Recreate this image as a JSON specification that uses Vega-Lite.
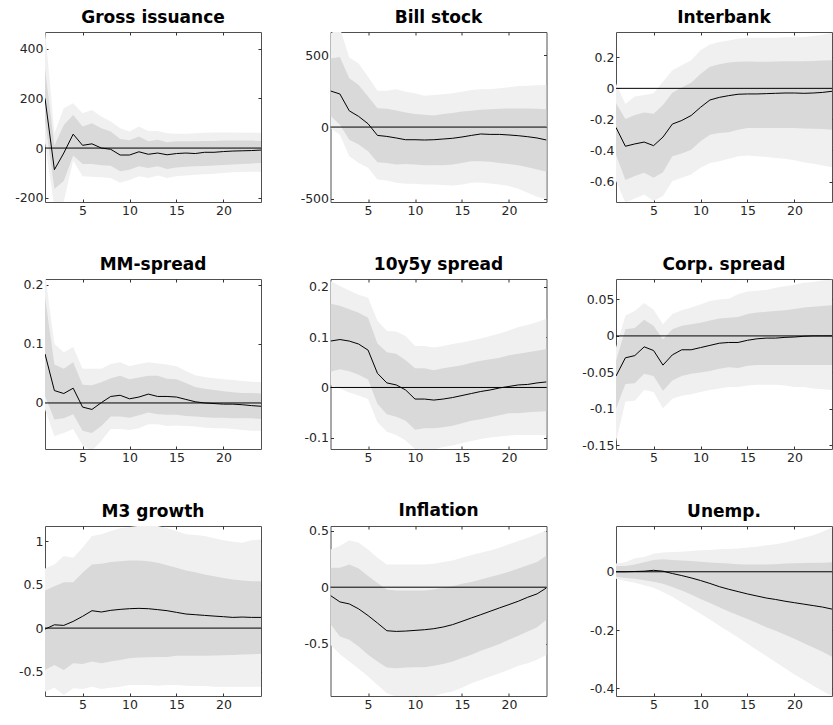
{
"$schema": "https://vega.github.io/schema/vega-lite/v6.json",
"background": "white",
"padding": {"left": 14, "top": 8, "right": 0, "bottom": 0},
"bounds": "flush",
"columns": 3,
"spacing": {"row": 77, "column": 69.5},
"datasets": {
"gross": [
{"h":1,"irf":200,"lo90":20,"hi90":480,"lo68":110,"hi68":320},
{"h":2,"irf":-87,"lo90":-240,"hi90":60,"lo68":-165,"hi68":10},
{"h":3,"irf":-20,"lo90":-215,"hi90":160,"lo68":-133,"hi68":93},
{"h":4,"irf":56,"lo90":-50,"hi90":180,"lo68":-30,"hi68":133},
{"h":5,"irf":11,"lo90":-113,"hi90":140,"lo68":-64,"hi68":87},
{"h":6,"irf":17,"lo90":-115,"hi90":153,"lo68":-64,"hi68":100},
{"h":7,"irf":0,"lo90":-117,"hi90":127,"lo68":-69,"hi68":80},
{"h":8,"irf":-5,"lo90":-120,"hi90":107,"lo68":-71,"hi68":67},
{"h":9,"irf":-28,"lo90":-140,"hi90":80,"lo68":-93,"hi68":36},
{"h":10,"irf":-28,"lo90":-128,"hi90":67,"lo68":-87,"hi68":31},
{"h":11,"irf":-15,"lo90":-113,"hi90":87,"lo68":-73,"hi68":47},
{"h":12,"irf":-25,"lo90":-120,"hi90":69,"lo68":-80,"hi68":27},
{"h":13,"irf":-20,"lo90":-110,"hi90":69,"lo68":-73,"hi68":33},
{"h":14,"irf":-27,"lo90":-120,"hi90":60,"lo68":-84,"hi68":23},
{"h":15,"irf":-22,"lo90":-113,"hi90":58,"lo68":-78,"hi68":27},
{"h":16,"irf":-20,"lo90":-110,"hi90":58,"lo68":-75,"hi68":27},
{"h":17,"irf":-22,"lo90":-107,"hi90":60,"lo68":-73,"hi68":27},
{"h":18,"irf":-17,"lo90":-105,"hi90":62,"lo68":-72,"hi68":28},
{"h":19,"irf":-17,"lo90":-103,"hi90":63,"lo68":-70,"hi68":28},
{"h":20,"irf":-14,"lo90":-100,"hi90":63,"lo68":-68,"hi68":30},
{"h":21,"irf":-12,"lo90":-97,"hi90":63,"lo68":-66,"hi68":30},
{"h":22,"irf":-11,"lo90":-96,"hi90":62,"lo68":-64,"hi68":30},
{"h":23,"irf":-10,"lo90":-95,"hi90":62,"lo68":-62,"hi68":30},
{"h":24,"irf":-8,"lo90":-95,"hi90":62,"lo68":-60,"hi68":28}
],
"bill": [
{"h":1,"irf":251,"lo90":-7,"hi90":650,"lo68":78,"hi68":477},
{"h":2,"irf":230,"lo90":-53,"hi90":690,"lo68":16,"hi68":488},
{"h":3,"irf":113,"lo90":-203,"hi90":484,"lo68":-88,"hi68":339},
{"h":4,"irf":74,"lo90":-249,"hi90":442,"lo68":-122,"hi68":293},
{"h":5,"irf":23,"lo90":-283,"hi90":350,"lo68":-168,"hi68":212},
{"h":6,"irf":-58,"lo90":-364,"hi90":253,"lo68":-244,"hi68":131},
{"h":7,"irf":-65,"lo90":-371,"hi90":253,"lo68":-249,"hi68":127},
{"h":8,"irf":-76,"lo90":-387,"hi90":263,"lo68":-260,"hi68":115},
{"h":9,"irf":-88,"lo90":-394,"hi90":246,"lo68":-256,"hi68":101},
{"h":10,"irf":-88,"lo90":-394,"hi90":235,"lo68":-260,"hi68":90},
{"h":11,"irf":-90,"lo90":-399,"hi90":217,"lo68":-265,"hi68":85},
{"h":12,"irf":-88,"lo90":-399,"hi90":223,"lo68":-265,"hi68":81},
{"h":13,"irf":-83,"lo90":-403,"hi90":228,"lo68":-265,"hi68":90},
{"h":14,"irf":-78,"lo90":-406,"hi90":235,"lo68":-260,"hi68":97},
{"h":15,"irf":-69,"lo90":-399,"hi90":246,"lo68":-249,"hi68":108},
{"h":16,"irf":-58,"lo90":-387,"hi90":258,"lo68":-237,"hi68":113},
{"h":17,"irf":-48,"lo90":-385,"hi90":263,"lo68":-237,"hi68":120},
{"h":18,"irf":-51,"lo90":-392,"hi90":263,"lo68":-242,"hi68":124},
{"h":19,"irf":-51,"lo90":-399,"hi90":270,"lo68":-249,"hi68":127},
{"h":20,"irf":-55,"lo90":-410,"hi90":276,"lo68":-256,"hi68":129},
{"h":21,"irf":-60,"lo90":-429,"hi90":286,"lo68":-265,"hi68":129},
{"h":22,"irf":-67,"lo90":-456,"hi90":288,"lo68":-279,"hi68":129},
{"h":23,"irf":-76,"lo90":-484,"hi90":290,"lo68":-295,"hi68":127},
{"h":24,"irf":-90,"lo90":-502,"hi90":293,"lo68":-311,"hi68":124}
],
"interbank": [
{"h":1,"irf":-0.252,"lo90":-0.597,"hi90":0.032,"lo68":-0.427,"hi68":-0.096},
{"h":2,"irf":-0.373,"lo90":-0.736,"hi90":-0.1,"lo68":-0.591,"hi68":-0.198},
{"h":3,"irf":-0.358,"lo90":-0.71,"hi90":-0.053,"lo68":-0.565,"hi68":-0.171},
{"h":4,"irf":-0.346,"lo90":-0.683,"hi90":-0.043,"lo68":-0.544,"hi68":-0.156},
{"h":5,"irf":-0.369,"lo90":-0.725,"hi90":-0.032,"lo68":-0.576,"hi68":-0.164},
{"h":6,"irf":-0.314,"lo90":-0.693,"hi90":0.043,"lo68":-0.54,"hi68":-0.107},
{"h":7,"irf":-0.23,"lo90":-0.597,"hi90":0.117,"lo68":-0.437,"hi68":-0.028},
{"h":8,"irf":-0.207,"lo90":-0.576,"hi90":0.149,"lo68":-0.42,"hi68":0.006},
{"h":9,"irf":-0.175,"lo90":-0.555,"hi90":0.181,"lo68":-0.395,"hi68":0.036},
{"h":10,"irf":-0.122,"lo90":-0.512,"hi90":0.245,"lo68":-0.341,"hi68":0.092},
{"h":11,"irf":-0.075,"lo90":-0.48,"hi90":0.282,"lo68":-0.299,"hi68":0.139},
{"h":12,"irf":-0.058,"lo90":-0.469,"hi90":0.299,"lo68":-0.288,"hi68":0.156},
{"h":13,"irf":-0.047,"lo90":-0.454,"hi90":0.309,"lo68":-0.282,"hi68":0.166},
{"h":14,"irf":-0.038,"lo90":-0.437,"hi90":0.32,"lo68":-0.267,"hi68":0.171},
{"h":15,"irf":-0.036,"lo90":-0.433,"hi90":0.326,"lo68":-0.256,"hi68":0.173},
{"h":16,"irf":-0.036,"lo90":-0.437,"hi90":0.326,"lo68":-0.256,"hi68":0.171},
{"h":17,"irf":-0.034,"lo90":-0.442,"hi90":0.326,"lo68":-0.256,"hi68":0.171},
{"h":18,"irf":-0.032,"lo90":-0.448,"hi90":0.326,"lo68":-0.256,"hi68":0.173},
{"h":19,"irf":-0.03,"lo90":-0.454,"hi90":0.329,"lo68":-0.256,"hi68":0.175},
{"h":20,"irf":-0.03,"lo90":-0.463,"hi90":0.329,"lo68":-0.256,"hi68":0.175},
{"h":21,"irf":-0.032,"lo90":-0.476,"hi90":0.331,"lo68":-0.258,"hi68":0.175},
{"h":22,"irf":-0.03,"lo90":-0.486,"hi90":0.337,"lo68":-0.26,"hi68":0.177},
{"h":23,"irf":-0.026,"lo90":-0.497,"hi90":0.346,"lo68":-0.262,"hi68":0.179},
{"h":24,"irf":-0.019,"lo90":-0.508,"hi90":0.356,"lo68":-0.267,"hi68":0.181}
],
"mm": [
{"h":1,"irf":0.083,"lo90":-0.011,"hi90":0.22,"lo68":0.012,"hi68":0.18},
{"h":2,"irf":0.021,"lo90":-0.056,"hi90":0.1,"lo68":-0.028,"hi68":0.065},
{"h":3,"irf":0.016,"lo90":-0.051,"hi90":0.086,"lo68":-0.026,"hi68":0.058},
{"h":4,"irf":0.025,"lo90":-0.044,"hi90":0.095,"lo68":-0.019,"hi68":0.069},
{"h":5,"irf":-0.007,"lo90":-0.072,"hi90":0.058,"lo68":-0.047,"hi68":0.031},
{"h":6,"irf":-0.011,"lo90":-0.081,"hi90":0.058,"lo68":-0.051,"hi68":0.03},
{"h":7,"irf":0.0006,"lo90":-0.064,"hi90":0.058,"lo68":-0.039,"hi68":0.035},
{"h":8,"irf":0.011,"lo90":-0.044,"hi90":0.066,"lo68":-0.023,"hi68":0.042},
{"h":9,"irf":0.013,"lo90":-0.044,"hi90":0.069,"lo68":-0.023,"hi68":0.046},
{"h":10,"irf":0.007,"lo90":-0.046,"hi90":0.062,"lo68":-0.025,"hi68":0.04},
{"h":11,"irf":0.01,"lo90":-0.043,"hi90":0.066,"lo68":-0.021,"hi68":0.043},
{"h":12,"irf":0.015,"lo90":-0.036,"hi90":0.069,"lo68":-0.016,"hi68":0.046},
{"h":13,"irf":0.011,"lo90":-0.036,"hi90":0.067,"lo68":-0.019,"hi68":0.046},
{"h":14,"irf":0.011,"lo90":-0.039,"hi90":0.065,"lo68":-0.02,"hi68":0.041},
{"h":15,"irf":0.01,"lo90":-0.038,"hi90":0.062,"lo68":-0.02,"hi68":0.04},
{"h":16,"irf":0.006,"lo90":-0.039,"hi90":0.054,"lo68":-0.022,"hi68":0.034},
{"h":17,"irf":0.002,"lo90":-0.04,"hi90":0.047,"lo68":-0.023,"hi68":0.027},
{"h":18,"irf":0,"lo90":-0.042,"hi90":0.044,"lo68":-0.024,"hi68":0.024},
{"h":19,"irf":-0.001,"lo90":-0.043,"hi90":0.042,"lo68":-0.025,"hi68":0.022},
{"h":20,"irf":-0.002,"lo90":-0.043,"hi90":0.04,"lo68":-0.025,"hi68":0.02},
{"h":21,"irf":-0.002,"lo90":-0.044,"hi90":0.039,"lo68":-0.026,"hi68":0.018},
{"h":22,"irf":-0.003,"lo90":-0.046,"hi90":0.037,"lo68":-0.026,"hi68":0.017},
{"h":23,"irf":-0.0045,"lo90":-0.047,"hi90":0.036,"lo68":-0.026,"hi68":0.017},
{"h":24,"irf":-0.0056,"lo90":-0.047,"hi90":0.035,"lo68":-0.027,"hi68":0.016}
],
"spread10y5y": [
{"h":1,"irf":0.092,"lo90":0.005,"hi90":0.211,"lo68":0.031,"hi68":0.166},
{"h":2,"irf":0.095,"lo90":-0.002,"hi90":0.201,"lo68":0.036,"hi68":0.162},
{"h":3,"irf":0.092,"lo90":-0.01,"hi90":0.192,"lo68":0.032,"hi68":0.155},
{"h":4,"irf":0.086,"lo90":-0.016,"hi90":0.184,"lo68":0.025,"hi68":0.148},
{"h":5,"irf":0.074,"lo90":-0.023,"hi90":0.178,"lo68":0.016,"hi68":0.138},
{"h":6,"irf":0.028,"lo90":-0.069,"hi90":0.132,"lo68":-0.033,"hi68":0.087},
{"h":7,"irf":0.009,"lo90":-0.088,"hi90":0.112,"lo68":-0.053,"hi68":0.07},
{"h":8,"irf":0.005,"lo90":-0.094,"hi90":0.111,"lo68":-0.058,"hi68":0.067},
{"h":9,"irf":-0.005,"lo90":-0.105,"hi90":0.102,"lo68":-0.066,"hi68":0.054},
{"h":10,"irf":-0.023,"lo90":-0.122,"hi90":0.082,"lo68":-0.084,"hi68":0.038},
{"h":11,"irf":-0.023,"lo90":-0.125,"hi90":0.082,"lo68":-0.081,"hi68":0.038},
{"h":12,"irf":-0.025,"lo90":-0.123,"hi90":0.079,"lo68":-0.081,"hi68":0.034},
{"h":13,"irf":-0.023,"lo90":-0.118,"hi90":0.082,"lo68":-0.079,"hi68":0.038},
{"h":14,"irf":-0.02,"lo90":-0.115,"hi90":0.086,"lo68":-0.076,"hi68":0.041},
{"h":15,"irf":-0.016,"lo90":-0.11,"hi90":0.089,"lo68":-0.071,"hi68":0.044},
{"h":16,"irf":-0.012,"lo90":-0.106,"hi90":0.093,"lo68":-0.066,"hi68":0.049},
{"h":17,"irf":-0.008,"lo90":-0.102,"hi90":0.097,"lo68":-0.063,"hi68":0.053},
{"h":18,"irf":-0.005,"lo90":-0.099,"hi90":0.102,"lo68":-0.059,"hi68":0.056},
{"h":19,"irf":-0.001,"lo90":-0.097,"hi90":0.107,"lo68":-0.055,"hi68":0.059},
{"h":20,"irf":0.002,"lo90":-0.095,"hi90":0.113,"lo68":-0.051,"hi68":0.064},
{"h":21,"irf":0.005,"lo90":-0.094,"hi90":0.12,"lo68":-0.051,"hi68":0.067},
{"h":22,"irf":0.006,"lo90":-0.094,"hi90":0.124,"lo68":-0.049,"hi68":0.07},
{"h":23,"irf":0.009,"lo90":-0.094,"hi90":0.13,"lo68":-0.048,"hi68":0.073},
{"h":24,"irf":0.011,"lo90":-0.095,"hi90":0.136,"lo68":-0.047,"hi68":0.076}
],
"corp": [
{"h":1,"irf":-0.055,"lo90":-0.145,"hi90":-0.016,"lo68":-0.1,"hi68":-0.034},
{"h":2,"irf":-0.03,"lo90":-0.09,"hi90":0.028,"lo68":-0.066,"hi68":0.009},
{"h":3,"irf":-0.027,"lo90":-0.089,"hi90":0.034,"lo68":-0.065,"hi68":0.011},
{"h":4,"irf":-0.015,"lo90":-0.074,"hi90":0.045,"lo68":-0.052,"hi68":0.022},
{"h":5,"irf":-0.02,"lo90":-0.077,"hi90":0.036,"lo68":-0.055,"hi68":0.014},
{"h":6,"irf":-0.04,"lo90":-0.099,"hi90":0.016,"lo68":-0.075,"hi68":-0.005},
{"h":7,"irf":-0.026,"lo90":-0.086,"hi90":0.03,"lo68":-0.061,"hi68":0.009},
{"h":8,"irf":-0.019,"lo90":-0.082,"hi90":0.035,"lo68":-0.055,"hi68":0.014},
{"h":9,"irf":-0.019,"lo90":-0.08,"hi90":0.039,"lo68":-0.052,"hi68":0.016},
{"h":10,"irf":-0.016,"lo90":-0.077,"hi90":0.043,"lo68":-0.05,"hi68":0.018},
{"h":11,"irf":-0.013,"lo90":-0.074,"hi90":0.048,"lo68":-0.048,"hi68":0.021},
{"h":12,"irf":-0.01,"lo90":-0.072,"hi90":0.05,"lo68":-0.045,"hi68":0.024},
{"h":13,"irf":-0.009,"lo90":-0.07,"hi90":0.051,"lo68":-0.043,"hi68":0.025},
{"h":14,"irf":-0.009,"lo90":-0.07,"hi90":0.057,"lo68":-0.044,"hi68":0.026},
{"h":15,"irf":-0.006,"lo90":-0.068,"hi90":0.061,"lo68":-0.041,"hi68":0.03},
{"h":16,"irf":-0.004,"lo90":-0.067,"hi90":0.062,"lo68":-0.04,"hi68":0.032},
{"h":17,"irf":-0.003,"lo90":-0.067,"hi90":0.063,"lo68":-0.04,"hi68":0.033},
{"h":18,"irf":-0.003,"lo90":-0.067,"hi90":0.066,"lo68":-0.04,"hi68":0.034},
{"h":19,"irf":-0.002,"lo90":-0.068,"hi90":0.068,"lo68":-0.04,"hi68":0.035},
{"h":20,"irf":-0.0015,"lo90":-0.07,"hi90":0.07,"lo68":-0.04,"hi68":0.037},
{"h":21,"irf":-0.0005,"lo90":-0.07,"hi90":0.073,"lo68":-0.04,"hi68":0.039},
{"h":22,"irf":0,"lo90":-0.072,"hi90":0.074,"lo68":-0.04,"hi68":0.04},
{"h":23,"irf":0,"lo90":-0.073,"hi90":0.076,"lo68":-0.04,"hi68":0.041},
{"h":24,"irf":0,"lo90":-0.074,"hi90":0.077,"lo68":-0.04,"hi68":0.042}
],
"m3": [
{"h":1,"irf":-0.012,"lo90":-0.731,"hi90":0.685,"lo68":-0.481,"hi68":0.431},
{"h":2,"irf":0.038,"lo90":-0.685,"hi90":0.731,"lo68":-0.423,"hi68":0.481},
{"h":3,"irf":0.031,"lo90":-0.769,"hi90":0.827,"lo68":-0.481,"hi68":0.527},
{"h":4,"irf":0.077,"lo90":-0.692,"hi90":0.808,"lo68":-0.404,"hi68":0.527},
{"h":5,"irf":0.135,"lo90":-0.7,"hi90":0.923,"lo68":-0.412,"hi68":0.635},
{"h":6,"irf":0.2,"lo90":-0.673,"hi90":1.058,"lo68":-0.385,"hi68":0.731},
{"h":7,"irf":0.185,"lo90":-0.7,"hi90":1.077,"lo68":-0.404,"hi68":0.738},
{"h":8,"irf":0.204,"lo90":-0.685,"hi90":1.115,"lo68":-0.385,"hi68":0.758},
{"h":9,"irf":0.215,"lo90":-0.673,"hi90":1.146,"lo68":-0.365,"hi68":0.769},
{"h":10,"irf":0.223,"lo90":-0.654,"hi90":1.162,"lo68":-0.346,"hi68":0.777},
{"h":11,"irf":0.227,"lo90":-0.654,"hi90":1.175,"lo68":-0.338,"hi68":0.777},
{"h":12,"irf":0.223,"lo90":-0.654,"hi90":1.18,"lo68":-0.335,"hi68":0.769},
{"h":13,"irf":0.212,"lo90":-0.662,"hi90":1.173,"lo68":-0.331,"hi68":0.75},
{"h":14,"irf":0.2,"lo90":-0.654,"hi90":1.146,"lo68":-0.331,"hi68":0.723},
{"h":15,"irf":0.181,"lo90":-0.654,"hi90":1.115,"lo68":-0.319,"hi68":0.692},
{"h":16,"irf":0.162,"lo90":-0.662,"hi90":1.077,"lo68":-0.319,"hi68":0.662},
{"h":17,"irf":0.154,"lo90":-0.665,"hi90":1.069,"lo68":-0.319,"hi68":0.642},
{"h":18,"irf":0.146,"lo90":-0.665,"hi90":1.058,"lo68":-0.319,"hi68":0.615},
{"h":19,"irf":0.138,"lo90":-0.673,"hi90":1.031,"lo68":-0.315,"hi68":0.596},
{"h":20,"irf":0.131,"lo90":-0.673,"hi90":1.008,"lo68":-0.312,"hi68":0.577},
{"h":21,"irf":0.123,"lo90":-0.673,"hi90":0.992,"lo68":-0.308,"hi68":0.558},
{"h":22,"irf":0.127,"lo90":-0.673,"hi90":0.981,"lo68":-0.304,"hi68":0.546},
{"h":23,"irf":0.123,"lo90":-0.673,"hi90":1.008,"lo68":-0.3,"hi68":0.538},
{"h":24,"irf":0.123,"lo90":-0.673,"hi90":1.019,"lo68":-0.296,"hi68":0.538}
],
"inflation": [
{"h":1,"irf":-0.074,"lo90":-0.509,"hi90":0.334,"lo68":-0.325,"hi68":0.172},
{"h":2,"irf":-0.13,"lo90":-0.592,"hi90":0.364,"lo68":-0.435,"hi68":0.172},
{"h":3,"irf":-0.148,"lo90":-0.657,"hi90":0.414,"lo68":-0.464,"hi68":0.2},
{"h":4,"irf":-0.192,"lo90":-0.722,"hi90":0.393,"lo68":-0.524,"hi68":0.166},
{"h":5,"irf":-0.251,"lo90":-0.79,"hi90":0.334,"lo68":-0.598,"hi68":0.098},
{"h":6,"irf":-0.317,"lo90":-0.864,"hi90":0.26,"lo68":-0.657,"hi68":0.038},
{"h":7,"irf":-0.385,"lo90":-0.938,"hi90":0.2,"lo68":-0.71,"hi68":-0.021},
{"h":8,"irf":-0.391,"lo90":-0.967,"hi90":0.2,"lo68":-0.716,"hi68":-0.03},
{"h":9,"irf":-0.388,"lo90":-0.973,"hi90":0.2,"lo68":-0.71,"hi68":-0.03},
{"h":10,"irf":-0.382,"lo90":-0.973,"hi90":0.2,"lo68":-0.707,"hi68":-0.03},
{"h":11,"irf":-0.376,"lo90":-0.967,"hi90":0.2,"lo68":-0.707,"hi68":-0.03},
{"h":12,"irf":-0.367,"lo90":-0.962,"hi90":0.207,"lo68":-0.695,"hi68":-0.021},
{"h":13,"irf":-0.352,"lo90":-0.938,"hi90":0.222,"lo68":-0.68,"hi68":-0.006},
{"h":14,"irf":-0.331,"lo90":-0.923,"hi90":0.237,"lo68":-0.657,"hi68":0.009},
{"h":15,"irf":-0.302,"lo90":-0.888,"hi90":0.26,"lo68":-0.627,"hi68":0.03},
{"h":16,"irf":-0.272,"lo90":-0.849,"hi90":0.284,"lo68":-0.598,"hi68":0.047},
{"h":17,"irf":-0.243,"lo90":-0.82,"hi90":0.305,"lo68":-0.562,"hi68":0.068},
{"h":18,"irf":-0.213,"lo90":-0.79,"hi90":0.325,"lo68":-0.533,"hi68":0.089},
{"h":19,"irf":-0.183,"lo90":-0.76,"hi90":0.349,"lo68":-0.503,"hi68":0.112},
{"h":20,"irf":-0.154,"lo90":-0.731,"hi90":0.379,"lo68":-0.464,"hi68":0.136},
{"h":21,"irf":-0.124,"lo90":-0.695,"hi90":0.408,"lo68":-0.429,"hi68":0.166},
{"h":22,"irf":-0.089,"lo90":-0.672,"hi90":0.438,"lo68":-0.391,"hi68":0.195},
{"h":23,"irf":-0.059,"lo90":-0.642,"hi90":0.467,"lo68":-0.355,"hi68":0.222},
{"h":24,"irf":-0.006,"lo90":-0.598,"hi90":0.503,"lo68":-0.287,"hi68":0.281}
],
"unemp": [
{"h":1,"irf":0,"lo90":-0.024,"hi90":0.028,"lo68":-0.017,"hi68":0.02},
{"h":2,"irf":0,"lo90":-0.032,"hi90":0.033,"lo68":-0.021,"hi68":0.02},
{"h":3,"irf":0.001,"lo90":-0.038,"hi90":0.046,"lo68":-0.024,"hi68":0.025},
{"h":4,"irf":0.002,"lo90":-0.046,"hi90":0.051,"lo68":-0.029,"hi68":0.033},
{"h":5,"irf":0.005,"lo90":-0.055,"hi90":0.062,"lo68":-0.034,"hi68":0.04},
{"h":6,"irf":0.002,"lo90":-0.069,"hi90":0.066,"lo68":-0.041,"hi68":0.043},
{"h":7,"irf":-0.006,"lo90":-0.086,"hi90":0.068,"lo68":-0.052,"hi68":0.04},
{"h":8,"irf":-0.013,"lo90":-0.105,"hi90":0.069,"lo68":-0.064,"hi68":0.039},
{"h":9,"irf":-0.021,"lo90":-0.124,"hi90":0.071,"lo68":-0.078,"hi68":0.037},
{"h":10,"irf":-0.03,"lo90":-0.144,"hi90":0.074,"lo68":-0.093,"hi68":0.034},
{"h":11,"irf":-0.04,"lo90":-0.164,"hi90":0.075,"lo68":-0.107,"hi68":0.032},
{"h":12,"irf":-0.051,"lo90":-0.185,"hi90":0.077,"lo68":-0.122,"hi68":0.03},
{"h":13,"irf":-0.06,"lo90":-0.205,"hi90":0.078,"lo68":-0.136,"hi68":0.028},
{"h":14,"irf":-0.068,"lo90":-0.225,"hi90":0.08,"lo68":-0.149,"hi68":0.026},
{"h":15,"irf":-0.076,"lo90":-0.247,"hi90":0.083,"lo68":-0.162,"hi68":0.025},
{"h":16,"irf":-0.083,"lo90":-0.268,"hi90":0.086,"lo68":-0.176,"hi68":0.025},
{"h":17,"irf":-0.09,"lo90":-0.289,"hi90":0.091,"lo68":-0.19,"hi68":0.025},
{"h":18,"irf":-0.095,"lo90":-0.31,"hi90":0.094,"lo68":-0.202,"hi68":0.026},
{"h":19,"irf":-0.101,"lo90":-0.331,"hi90":0.1,"lo68":-0.216,"hi68":0.028},
{"h":20,"irf":-0.106,"lo90":-0.352,"hi90":0.108,"lo68":-0.23,"hi68":0.029},
{"h":21,"irf":-0.111,"lo90":-0.371,"hi90":0.117,"lo68":-0.245,"hi68":0.03},
{"h":22,"irf":-0.116,"lo90":-0.391,"hi90":0.125,"lo68":-0.26,"hi68":0.031},
{"h":23,"irf":-0.121,"lo90":-0.409,"hi90":0.137,"lo68":-0.274,"hi68":0.031},
{"h":24,"irf":-0.128,"lo90":-0.426,"hi90":0.152,"lo68":-0.291,"hi68":0.033}
]
},
"concat": [
{"title": "Gross issuance", "data": {"name": "gross"}, "width": 216, "height": 170,
 "layer": [
  {"mark": {"type": "area", "color": "#f0f0f0", "clip": true}, "encoding": {"x": {"field": "h", "type": "quantitative", "scale": {"domain": [1, 24], "nice": false}, "axis": {"orient": "bottom", "values": [5, 10, 15, 20], "title": null}}, "y": {"field": "lo90", "type": "quantitative", "scale": {"domain": [-217, 467], "nice": false, "zero": false}, "axis": {"orient": "left", "values": [-200, 0, 200, 400], "title": null}}, "y2": {"field": "hi90"}}},
  {"mark": {"type": "area", "color": "#d9d9d9", "clip": true}, "encoding": {"x": {"field": "h", "type": "quantitative", "axis": {"orient": "top", "values": [5, 10, 15, 20], "labels": false, "title": null}}, "y": {"field": "lo68", "type": "quantitative", "axis": {"orient": "right", "values": [-200, 0, 200, 400], "labels": false, "title": null}}, "y2": {"field": "hi68"}}},
  {"data": {"values": [{}]}, "mark": {"type": "rule", "color": "#000000", "strokeWidth": 1}, "encoding": {"y": {"datum": 0, "type": "quantitative", "axis": null}}},
  {"mark": {"type": "line", "color": "#000000", "strokeWidth": 1, "clip": true}, "encoding": {"x": {"field": "h", "type": "quantitative", "axis": null}, "y": {"field": "irf", "type": "quantitative", "axis": null}}}
 ],
 "resolve": {"axis": {"x": "independent", "y": "independent"}}},
{"title": "Bill stock", "data": {"name": "bill"}, "width": 216, "height": 170,
 "layer": [
  {"mark": {"type": "area", "color": "#f0f0f0", "clip": true}, "encoding": {"x": {"field": "h", "type": "quantitative", "scale": {"domain": [1, 24], "nice": false}, "axis": {"orient": "bottom", "values": [5, 10, 15, 20], "title": null}}, "y": {"field": "lo90", "type": "quantitative", "scale": {"domain": [-521, 661], "nice": false, "zero": false}, "axis": {"orient": "left", "values": [-500, 0, 500], "title": null}}, "y2": {"field": "hi90"}}},
  {"mark": {"type": "area", "color": "#d9d9d9", "clip": true}, "encoding": {"x": {"field": "h", "type": "quantitative", "axis": {"orient": "top", "values": [5, 10, 15, 20], "labels": false, "title": null}}, "y": {"field": "lo68", "type": "quantitative", "axis": {"orient": "right", "values": [-500, 0, 500], "labels": false, "title": null}}, "y2": {"field": "hi68"}}},
  {"data": {"values": [{}]}, "mark": {"type": "rule", "color": "#000000", "strokeWidth": 1}, "encoding": {"y": {"datum": 0, "type": "quantitative", "axis": null}}},
  {"mark": {"type": "line", "color": "#000000", "strokeWidth": 1, "clip": true}, "encoding": {"x": {"field": "h", "type": "quantitative", "axis": null}, "y": {"field": "irf", "type": "quantitative", "axis": null}}}
 ],
 "resolve": {"axis": {"x": "independent", "y": "independent"}}},
{"title": "Interbank", "data": {"name": "interbank"}, "width": 216, "height": 170,
 "layer": [
  {"mark": {"type": "area", "color": "#f0f0f0", "clip": true}, "encoding": {"x": {"field": "h", "type": "quantitative", "scale": {"domain": [1, 24], "nice": false}, "axis": {"orient": "bottom", "values": [5, 10, 15, 20], "title": null}}, "y": {"field": "lo90", "type": "quantitative", "scale": {"domain": [-0.732, 0.363], "nice": false, "zero": false}, "axis": {"orient": "left", "values": [-0.6, -0.4, -0.2, 0, 0.2], "title": null}}, "y2": {"field": "hi90"}}},
  {"mark": {"type": "area", "color": "#d9d9d9", "clip": true}, "encoding": {"x": {"field": "h", "type": "quantitative", "axis": {"orient": "top", "values": [5, 10, 15, 20], "labels": false, "title": null}}, "y": {"field": "lo68", "type": "quantitative", "axis": {"orient": "right", "values": [-0.6, -0.4, -0.2, 0, 0.2], "labels": false, "title": null}}, "y2": {"field": "hi68"}}},
  {"data": {"values": [{}]}, "mark": {"type": "rule", "color": "#000000", "strokeWidth": 1}, "encoding": {"y": {"datum": 0, "type": "quantitative", "axis": null}}},
  {"mark": {"type": "line", "color": "#000000", "strokeWidth": 1, "clip": true}, "encoding": {"x": {"field": "h", "type": "quantitative", "axis": null}, "y": {"field": "irf", "type": "quantitative", "axis": null}}}
 ],
 "resolve": {"axis": {"x": "independent", "y": "independent"}}},
{"title": "MM-spread", "data": {"name": "mm"}, "width": 216, "height": 170,
 "layer": [
  {"mark": {"type": "area", "color": "#f0f0f0", "clip": true}, "encoding": {"x": {"field": "h", "type": "quantitative", "scale": {"domain": [1, 24], "nice": false}, "axis": {"orient": "bottom", "values": [5, 10, 15, 20], "title": null}}, "y": {"field": "lo90", "type": "quantitative", "scale": {"domain": [-0.078, 0.21], "nice": false, "zero": false}, "axis": {"orient": "left", "values": [0, 0.1, 0.2], "title": null}}, "y2": {"field": "hi90"}}},
  {"mark": {"type": "area", "color": "#d9d9d9", "clip": true}, "encoding": {"x": {"field": "h", "type": "quantitative", "axis": {"orient": "top", "values": [5, 10, 15, 20], "labels": false, "title": null}}, "y": {"field": "lo68", "type": "quantitative", "axis": {"orient": "right", "values": [0, 0.1, 0.2], "labels": false, "title": null}}, "y2": {"field": "hi68"}}},
  {"data": {"values": [{}]}, "mark": {"type": "rule", "color": "#000000", "strokeWidth": 1}, "encoding": {"y": {"datum": 0, "type": "quantitative", "axis": null}}},
  {"mark": {"type": "line", "color": "#000000", "strokeWidth": 1, "clip": true}, "encoding": {"x": {"field": "h", "type": "quantitative", "axis": null}, "y": {"field": "irf", "type": "quantitative", "axis": null}}}
 ],
 "resolve": {"axis": {"x": "independent", "y": "independent"}}},
{"title": "10y5y spread", "data": {"name": "spread10y5y"}, "width": 216, "height": 170,
 "layer": [
  {"mark": {"type": "area", "color": "#f0f0f0", "clip": true}, "encoding": {"x": {"field": "h", "type": "quantitative", "scale": {"domain": [1, 24], "nice": false}, "axis": {"orient": "bottom", "values": [5, 10, 15, 20], "title": null}}, "y": {"field": "lo90", "type": "quantitative", "scale": {"domain": [-0.122, 0.215], "nice": false, "zero": false}, "axis": {"orient": "left", "values": [-0.1, 0, 0.1, 0.2], "title": null}}, "y2": {"field": "hi90"}}},
  {"mark": {"type": "area", "color": "#d9d9d9", "clip": true}, "encoding": {"x": {"field": "h", "type": "quantitative", "axis": {"orient": "top", "values": [5, 10, 15, 20], "labels": false, "title": null}}, "y": {"field": "lo68", "type": "quantitative", "axis": {"orient": "right", "values": [-0.1, 0, 0.1, 0.2], "labels": false, "title": null}}, "y2": {"field": "hi68"}}},
  {"data": {"values": [{}]}, "mark": {"type": "rule", "color": "#000000", "strokeWidth": 1}, "encoding": {"y": {"datum": 0, "type": "quantitative", "axis": null}}},
  {"mark": {"type": "line", "color": "#000000", "strokeWidth": 1, "clip": true}, "encoding": {"x": {"field": "h", "type": "quantitative", "axis": null}, "y": {"field": "irf", "type": "quantitative", "axis": null}}}
 ],
 "resolve": {"axis": {"x": "independent", "y": "independent"}}},
{"title": "Corp. spread", "data": {"name": "corp"}, "width": 216, "height": 170,
 "layer": [
  {"mark": {"type": "area", "color": "#f0f0f0", "clip": true}, "encoding": {"x": {"field": "h", "type": "quantitative", "scale": {"domain": [1, 24], "nice": false}, "axis": {"orient": "bottom", "values": [5, 10, 15, 20], "title": null}}, "y": {"field": "lo90", "type": "quantitative", "scale": {"domain": [-0.155, 0.078], "nice": false, "zero": false}, "axis": {"orient": "left", "values": [-0.15, -0.1, -0.05, 0, 0.05], "title": null}}, "y2": {"field": "hi90"}}},
  {"mark": {"type": "area", "color": "#d9d9d9", "clip": true}, "encoding": {"x": {"field": "h", "type": "quantitative", "axis": {"orient": "top", "values": [5, 10, 15, 20], "labels": false, "title": null}}, "y": {"field": "lo68", "type": "quantitative", "axis": {"orient": "right", "values": [-0.15, -0.1, -0.05, 0, 0.05], "labels": false, "title": null}}, "y2": {"field": "hi68"}}},
  {"data": {"values": [{}]}, "mark": {"type": "rule", "color": "#000000", "strokeWidth": 1}, "encoding": {"y": {"datum": 0, "type": "quantitative", "axis": null}}},
  {"mark": {"type": "line", "color": "#000000", "strokeWidth": 1, "clip": true}, "encoding": {"x": {"field": "h", "type": "quantitative", "axis": null}, "y": {"field": "irf", "type": "quantitative", "axis": null}}}
 ],
 "resolve": {"axis": {"x": "independent", "y": "independent"}}},
{"title": "M3 growth", "data": {"name": "m3"}, "width": 216, "height": 170,
 "layer": [
  {"mark": {"type": "area", "color": "#f0f0f0", "clip": true}, "encoding": {"x": {"field": "h", "type": "quantitative", "scale": {"domain": [1, 24], "nice": false}, "axis": {"orient": "bottom", "values": [5, 10, 15, 20], "title": null}}, "y": {"field": "lo90", "type": "quantitative", "scale": {"domain": [-0.78, 1.173], "nice": false, "zero": false}, "axis": {"orient": "left", "values": [-0.5, 0, 0.5, 1], "title": null}}, "y2": {"field": "hi90"}}},
  {"mark": {"type": "area", "color": "#d9d9d9", "clip": true}, "encoding": {"x": {"field": "h", "type": "quantitative", "axis": {"orient": "top", "values": [5, 10, 15, 20], "labels": false, "title": null}}, "y": {"field": "lo68", "type": "quantitative", "axis": {"orient": "right", "values": [-0.5, 0, 0.5, 1], "labels": false, "title": null}}, "y2": {"field": "hi68"}}},
  {"data": {"values": [{}]}, "mark": {"type": "rule", "color": "#000000", "strokeWidth": 1}, "encoding": {"y": {"datum": 0, "type": "quantitative", "axis": null}}},
  {"mark": {"type": "line", "color": "#000000", "strokeWidth": 1, "clip": true}, "encoding": {"x": {"field": "h", "type": "quantitative", "axis": null}, "y": {"field": "irf", "type": "quantitative", "axis": null}}}
 ],
 "resolve": {"axis": {"x": "independent", "y": "independent"}}},
{"title": "Inflation", "data": {"name": "inflation"}, "width": 216, "height": 170,
 "layer": [
  {"mark": {"type": "area", "color": "#f0f0f0", "clip": true}, "encoding": {"x": {"field": "h", "type": "quantitative", "scale": {"domain": [1, 24], "nice": false}, "axis": {"orient": "bottom", "values": [5, 10, 15, 20], "title": null}}, "y": {"field": "lo90", "type": "quantitative", "scale": {"domain": [-0.962, 0.541], "nice": false, "zero": false}, "axis": {"orient": "left", "values": [-0.5, 0, 0.5], "title": null}}, "y2": {"field": "hi90"}}},
  {"mark": {"type": "area", "color": "#d9d9d9", "clip": true}, "encoding": {"x": {"field": "h", "type": "quantitative", "axis": {"orient": "top", "values": [5, 10, 15, 20], "labels": false, "title": null}}, "y": {"field": "lo68", "type": "quantitative", "axis": {"orient": "right", "values": [-0.5, 0, 0.5], "labels": false, "title": null}}, "y2": {"field": "hi68"}}},
  {"data": {"values": [{}]}, "mark": {"type": "rule", "color": "#000000", "strokeWidth": 1}, "encoding": {"y": {"datum": 0, "type": "quantitative", "axis": null}}},
  {"mark": {"type": "line", "color": "#000000", "strokeWidth": 1, "clip": true}, "encoding": {"x": {"field": "h", "type": "quantitative", "axis": null}, "y": {"field": "irf", "type": "quantitative", "axis": null}}}
 ],
 "resolve": {"axis": {"x": "independent", "y": "independent"}}},
{"title": "Unemp.", "data": {"name": "unemp"}, "width": 216, "height": 170,
 "layer": [
  {"mark": {"type": "area", "color": "#f0f0f0", "clip": true}, "encoding": {"x": {"field": "h", "type": "quantitative", "scale": {"domain": [1, 24], "nice": false}, "axis": {"orient": "bottom", "values": [5, 10, 15, 20], "title": null}}, "y": {"field": "lo90", "type": "quantitative", "scale": {"domain": [-0.426, 0.157], "nice": false, "zero": false}, "axis": {"orient": "left", "values": [-0.4, -0.2, 0], "title": null}}, "y2": {"field": "hi90"}}},
  {"mark": {"type": "area", "color": "#d9d9d9", "clip": true}, "encoding": {"x": {"field": "h", "type": "quantitative", "axis": {"orient": "top", "values": [5, 10, 15, 20], "labels": false, "title": null}}, "y": {"field": "lo68", "type": "quantitative", "axis": {"orient": "right", "values": [-0.4, -0.2, 0], "labels": false, "title": null}}, "y2": {"field": "hi68"}}},
  {"data": {"values": [{}]}, "mark": {"type": "rule", "color": "#000000", "strokeWidth": 1}, "encoding": {"y": {"datum": 0, "type": "quantitative", "axis": null}}},
  {"mark": {"type": "line", "color": "#000000", "strokeWidth": 1, "clip": true}, "encoding": {"x": {"field": "h", "type": "quantitative", "axis": null}, "y": {"field": "irf", "type": "quantitative", "axis": null}}}
 ],
 "resolve": {"axis": {"x": "independent", "y": "independent"}}}
],
"config": {
 "view": {"stroke": "#505050", "strokeWidth": 1},
 "font": "DejaVu Sans",
 "numberFormat": "~r",
 "locale": {"number": {"decimal": ".", "thousands": ",", "grouping": [3], "currency": ["$", ""], "minus": "-"}},
 "axis": {"domain": false, "grid": false, "tickSize": -3, "tickColor": "#333333", "tickWidth": 1, "labelFont": "DejaVu Sans", "labelFontSize": 12.5, "labelColor": "#262626", "labelPadding": 5},
 "title": {"font": "DejaVu Sans", "fontSize": 17, "fontWeight": "bold", "color": "#000000", "baseline": "alphabetic", "offset": 5}
}
}
